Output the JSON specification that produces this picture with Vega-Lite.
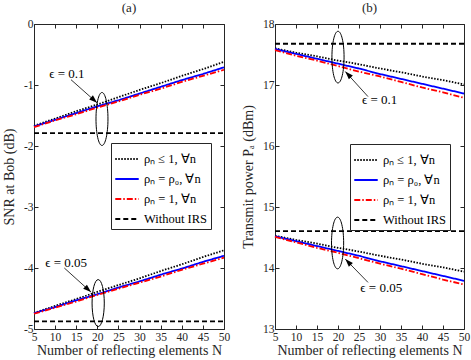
{
  "$schema": "https://vega.github.io/schema/vega-lite/v6.json",
  "padding": {"left": 2, "top": 2, "right": 10, "bottom": 3},
  "spacing": 11,
  "config": {
    "font": "Liberation Serif",
    "view": {"stroke": null},
    "axis": {"grid": false, "domainColor": "#262626", "tickColor": "#262626", "labelColor": "#262626", "titleColor": "#262626", "labelFont": "Liberation Serif", "titleFont": "Liberation Serif", "labelFontSize": 11.5, "titleFontSize": 14, "titleFontWeight": "normal", "tickSize": -4, "labelPadding": 3, "labelFlush": false, "labelOverlap": false, "domainWidth": 1, "titlePadding": 3},
    "axisX": {"labelPadding": 6, "titlePadding": 1},
    "axisY": {"labelPadding": 5, "titlePadding": 7},
    "legend": {"labelFont": "Liberation Serif", "labelFontSize": 12.5, "labelColor": "#000", "symbolType": "stroke", "symbolSize": 550, "symbolStrokeWidth": 2, "fillColor": "white", "strokeColor": "#262626", "padding": 3, "rowPadding": 0, "labelLimit": 200, "title": null},
    "title": {"font": "Liberation Serif", "fontSize": 13, "fontWeight": "normal", "color": "#262626", "offset": 3}
  },
  "datasets": {
    "a": [
      {"s":"d","e":"0.1","N":5,"v":-1.67},{"s":"d","e":"0.1","N":10,"v":-1.55},{"s":"d","e":"0.1","N":15,"v":-1.43},{"s":"d","e":"0.1","N":20,"v":-1.32},{"s":"d","e":"0.1","N":25,"v":-1.20},{"s":"d","e":"0.1","N":30,"v":-1.08},{"s":"d","e":"0.1","N":35,"v":-0.97},{"s":"d","e":"0.1","N":40,"v":-0.85},{"s":"d","e":"0.1","N":45,"v":-0.74},{"s":"d","e":"0.1","N":50,"v":-0.62},
      {"s":"b","e":"0.1","N":5,"v":-1.68},{"s":"b","e":"0.1","N":10,"v":-1.57},{"s":"b","e":"0.1","N":15,"v":-1.46},{"s":"b","e":"0.1","N":20,"v":-1.35},{"s":"b","e":"0.1","N":25,"v":-1.25},{"s":"b","e":"0.1","N":30,"v":-1.14},{"s":"b","e":"0.1","N":35,"v":-1.03},{"s":"b","e":"0.1","N":40,"v":-0.92},{"s":"b","e":"0.1","N":45,"v":-0.82},{"s":"b","e":"0.1","N":50,"v":-0.71},
      {"s":"r","e":"0.1","N":5,"v":-1.69},{"s":"r","e":"0.1","N":10,"v":-1.58},{"s":"r","e":"0.1","N":15,"v":-1.48},{"s":"r","e":"0.1","N":20,"v":-1.37},{"s":"r","e":"0.1","N":25,"v":-1.27},{"s":"r","e":"0.1","N":30,"v":-1.16},{"s":"r","e":"0.1","N":35,"v":-1.06},{"s":"r","e":"0.1","N":40,"v":-0.95},{"s":"r","e":"0.1","N":45,"v":-0.85},{"s":"r","e":"0.1","N":50,"v":-0.75},
      {"s":"w","e":"0.1","N":5,"v":-1.79},{"s":"w","e":"0.1","N":50,"v":-1.79},
      {"s":"d","e":"0.05","N":5,"v":-4.74},{"s":"d","e":"0.05","N":10,"v":-4.62},{"s":"d","e":"0.05","N":15,"v":-4.51},{"s":"d","e":"0.05","N":20,"v":-4.39},{"s":"d","e":"0.05","N":25,"v":-4.28},{"s":"d","e":"0.05","N":30,"v":-4.17},{"s":"d","e":"0.05","N":35,"v":-4.05},{"s":"d","e":"0.05","N":40,"v":-3.94},{"s":"d","e":"0.05","N":45,"v":-3.82},{"s":"d","e":"0.05","N":50,"v":-3.71},
      {"s":"b","e":"0.05","N":5,"v":-4.74},{"s":"b","e":"0.05","N":10,"v":-4.64},{"s":"b","e":"0.05","N":15,"v":-4.53},{"s":"b","e":"0.05","N":20,"v":-4.43},{"s":"b","e":"0.05","N":25,"v":-4.32},{"s":"b","e":"0.05","N":30,"v":-4.22},{"s":"b","e":"0.05","N":35,"v":-4.11},{"s":"b","e":"0.05","N":40,"v":-4.01},{"s":"b","e":"0.05","N":45,"v":-3.90},{"s":"b","e":"0.05","N":50,"v":-3.80},
      {"s":"r","e":"0.05","N":5,"v":-4.75},{"s":"r","e":"0.05","N":10,"v":-4.65},{"s":"r","e":"0.05","N":15,"v":-4.55},{"s":"r","e":"0.05","N":20,"v":-4.44},{"s":"r","e":"0.05","N":25,"v":-4.34},{"s":"r","e":"0.05","N":30,"v":-4.24},{"s":"r","e":"0.05","N":35,"v":-4.14},{"s":"r","e":"0.05","N":40,"v":-4.03},{"s":"r","e":"0.05","N":45,"v":-3.93},{"s":"r","e":"0.05","N":50,"v":-3.83},
      {"s":"w","e":"0.05","N":5,"v":-4.875},{"s":"w","e":"0.05","N":50,"v":-4.875}
    ],
    "b": [
      {"s":"d","e":"0.1","N":5,"v":17.60},{"s":"d","e":"0.1","N":10,"v":17.53},{"s":"d","e":"0.1","N":15,"v":17.47},{"s":"d","e":"0.1","N":20,"v":17.40},{"s":"d","e":"0.1","N":25,"v":17.34},{"s":"d","e":"0.1","N":30,"v":17.27},{"s":"d","e":"0.1","N":35,"v":17.21},{"s":"d","e":"0.1","N":40,"v":17.14},{"s":"d","e":"0.1","N":45,"v":17.08},{"s":"d","e":"0.1","N":50,"v":17.01},
      {"s":"b","e":"0.1","N":5,"v":17.59},{"s":"b","e":"0.1","N":10,"v":17.51},{"s":"b","e":"0.1","N":15,"v":17.43},{"s":"b","e":"0.1","N":20,"v":17.35},{"s":"b","e":"0.1","N":25,"v":17.27},{"s":"b","e":"0.1","N":30,"v":17.18},{"s":"b","e":"0.1","N":35,"v":17.10},{"s":"b","e":"0.1","N":40,"v":17.02},{"s":"b","e":"0.1","N":45,"v":16.94},{"s":"b","e":"0.1","N":50,"v":16.86},
      {"s":"r","e":"0.1","N":5,"v":17.57},{"s":"r","e":"0.1","N":10,"v":17.48},{"s":"r","e":"0.1","N":15,"v":17.40},{"s":"r","e":"0.1","N":20,"v":17.31},{"s":"r","e":"0.1","N":25,"v":17.22},{"s":"r","e":"0.1","N":30,"v":17.14},{"s":"r","e":"0.1","N":35,"v":17.05},{"s":"r","e":"0.1","N":40,"v":16.96},{"s":"r","e":"0.1","N":45,"v":16.88},{"s":"r","e":"0.1","N":50,"v":16.79},
      {"s":"w","e":"0.1","N":5,"v":17.676},{"s":"w","e":"0.1","N":50,"v":17.676},
      {"s":"d","e":"0.05","N":5,"v":14.53},{"s":"d","e":"0.05","N":10,"v":14.46},{"s":"d","e":"0.05","N":15,"v":14.40},{"s":"d","e":"0.05","N":20,"v":14.33},{"s":"d","e":"0.05","N":25,"v":14.27},{"s":"d","e":"0.05","N":30,"v":14.20},{"s":"d","e":"0.05","N":35,"v":14.14},{"s":"d","e":"0.05","N":40,"v":14.07},{"s":"d","e":"0.05","N":45,"v":14.01},{"s":"d","e":"0.05","N":50,"v":13.94},
      {"s":"b","e":"0.05","N":5,"v":14.52},{"s":"b","e":"0.05","N":10,"v":14.44},{"s":"b","e":"0.05","N":15,"v":14.36},{"s":"b","e":"0.05","N":20,"v":14.28},{"s":"b","e":"0.05","N":25,"v":14.20},{"s":"b","e":"0.05","N":30,"v":14.11},{"s":"b","e":"0.05","N":35,"v":14.03},{"s":"b","e":"0.05","N":40,"v":13.95},{"s":"b","e":"0.05","N":45,"v":13.87},{"s":"b","e":"0.05","N":50,"v":13.79},
      {"s":"r","e":"0.05","N":5,"v":14.51},{"s":"r","e":"0.05","N":10,"v":14.42},{"s":"r","e":"0.05","N":15,"v":14.33},{"s":"r","e":"0.05","N":20,"v":14.25},{"s":"r","e":"0.05","N":25,"v":14.16},{"s":"r","e":"0.05","N":30,"v":14.07},{"s":"r","e":"0.05","N":35,"v":13.99},{"s":"r","e":"0.05","N":40,"v":13.90},{"s":"r","e":"0.05","N":45,"v":13.81},{"s":"r","e":"0.05","N":50,"v":13.73},
      {"s":"w","e":"0.05","N":5,"v":14.604},{"s":"w","e":"0.05","N":50,"v":14.604}
    ],
    "aText": [{"N":12.8,"v":-0.814,"t":"ϵ = 0.1"},{"N":12.6,"v":-3.91,"t":"ϵ = 0.05"}],
    "aArrow": [{"N":13.76,"v":-0.913,"N2":19.92,"v2":-1.291},{"N":12.18,"v":-4.0,"N2":18.5,"v2":-4.395}],
    "aEll1": [{"N":21.1,"v":-1.557}],
    "aEll2": [{"N":20.2,"v":-4.575}],
    "bText": [{"N":29.9,"v":16.75,"t":"ϵ = 0.1"},{"N":30.3,"v":13.67,"t":"ϵ = 0.05"}],
    "bArrow": [{"N":27.14,"v":16.81,"N2":21.74,"v2":17.22},{"N":27.14,"v":13.764,"N2":21.74,"v2":14.146}],
    "bEll": [{"N":20.0,"v":17.457},{"N":19.9,"v":14.41}]
  },
  "resolve": {"scale": {"x": "independent", "y": "independent", "color": "independent", "strokeDash": "independent"}, "legend": {"color": "independent", "strokeDash": "independent"}},
  "hconcat": [
    {
      "width": 190, "height": 305,
      "title": {"text": "(a)"},
      "resolve": {"axis": {"x": "independent", "y": "independent"}},
      "layer": [
        {
          "layer": [
            {
              "data": {"name": "a"},
              "mark": {"type": "line", "strokeWidth": 1.8},
              "encoding": {
                "x": {"field": "N", "type": "quantitative", "scale": {"domain": [5, 50], "nice": false}, "axis": {"values": [5,10,15,20,25,30,35,40,45,50], "tickCount": 10, "labelOverlap": false, "title": "Number of reflecting elements N"}},
                "y": {"field": "v", "type": "quantitative", "scale": {"domain": [-5, 0], "nice": false}, "axis": {"values": [-5,-4,-3,-2,-1,0], "tickCount": 6, "format": "d", "labelOverlap": false, "title": "SNR at Bob (dB)", "labelExpr": "replace(datum.label, '−', '-')"}},
                "color": {"field": "s", "type": "nominal", "scale": {"domain": ["d","b","r","w"], "range": ["#000000","#0000ff","#ff0000","#000000"]}, "legend": {"orient": "none", "legendX": 77, "legendY": 119, "labelExpr": "{'d':'ρₙ ≤ 1, ∀n','b':'ρₙ = ρ₀, ∀n','r':'ρₙ = 1, ∀n','w':'Without IRS'}[datum.label]"}},
                "strokeDash": {"field": "s", "type": "nominal", "scale": {"domain": ["d","b","r","w"], "range": [[1.5,1.5],[1,0],[6,2,1.5,2],[5,3]]}, "legend": {"orient": "none", "legendX": 77, "legendY": 119, "labelExpr": "{'d':'ρₙ ≤ 1, ∀n','b':'ρₙ = ρ₀, ∀n','r':'ρₙ = 1, ∀n','w':'Without IRS'}[datum.label]"}},
                "detail": {"field": "e"}
              }
            },
            {
              "data": {"name": "aEll1"},
              "mark": {"type": "point", "shape": "M0,-1A0.226,1,0,1,1,0,1A0.226,1,0,1,1,0,-1Z", "size": 2809, "filled": false, "color": "#000", "strokeWidth": 1, "opacity": 1},
              "encoding": {"x": {"field": "N", "type": "quantitative"}, "y": {"field": "v", "type": "quantitative"}}
            },
            {
              "data": {"name": "aEll2"},
              "mark": {"type": "point", "shape": "M0,-1A0.26,1,0,1,1,0,1A0.26,1,0,1,1,0,-1Z", "size": 2209, "filled": false, "color": "#000", "strokeWidth": 1, "opacity": 1},
              "encoding": {"x": {"field": "N", "type": "quantitative"}, "y": {"field": "v", "type": "quantitative"}}
            },
            {
              "data": {"name": "aArrow"},
              "mark": {"type": "rule", "color": "#000", "strokeWidth": 0.8},
              "encoding": {"x": {"field": "N", "type": "quantitative"}, "y": {"field": "v", "type": "quantitative"}, "x2": {"field": "N2"}, "y2": {"field": "v2"}}
            },
            {
              "data": {"name": "aArrow"},
              "mark": {"type": "point", "shape": "M0,0L-0.35,1L0.35,1Z", "size": 256, "filled": true, "color": "#000", "angle": 132, "opacity": 1},
              "encoding": {"x": {"field": "N2", "type": "quantitative"}, "y": {"field": "v2", "type": "quantitative"}}
            },
            {
              "data": {"name": "aText"},
              "mark": {"type": "text", "fontSize": 13, "font": "Liberation Serif", "color": "#000"},
              "encoding": {"x": {"field": "N", "type": "quantitative"}, "y": {"field": "v", "type": "quantitative"}, "text": {"field": "t"}}
            }
          ]
        },
        {
          "data": {"name": "aText"},
          "mark": {"type": "point", "opacity": 0},
          "encoding": {
            "x": {"field": "N", "type": "quantitative", "axis": {"orient": "top", "labels": false, "title": null, "tickCount": 10, "values": [5,10,15,20,25,30,35,40,45,50]}},
            "y": {"field": "v", "type": "quantitative", "axis": {"orient": "right", "labels": false, "title": null, "tickCount": 6, "values": [-5,-4,-3,-2,-1,0]}}
          }
        }
      ]
    },
    {
      "width": 189, "height": 305,
      "title": {"text": "(b)"},
      "resolve": {"axis": {"x": "independent", "y": "independent"}},
      "layer": [
        {
          "layer": [
            {
              "data": {"name": "b"},
              "mark": {"type": "line", "strokeWidth": 1.8},
              "encoding": {
                "x": {"field": "N", "type": "quantitative", "scale": {"domain": [5, 50], "nice": false}, "axis": {"values": [5,10,15,20,25,30,35,40,45,50], "tickCount": 10, "labelOverlap": false, "title": "Number of reflecting elements N"}},
                "y": {"field": "v", "type": "quantitative", "scale": {"domain": [13, 18], "nice": false}, "axis": {"values": [13,14,15,16,17,18], "tickCount": 6, "format": "d", "labelOverlap": false, "title": "Transmit power Pₐ (dBm)"}},
                "color": {"field": "s", "type": "nominal", "scale": {"domain": ["d","b","r","w"], "range": ["#000000","#0000ff","#ff0000","#000000"]}, "legend": {"orient": "none", "legendX": 75, "legendY": 120, "labelExpr": "{'d':'ρₙ ≤ 1, ∀n','b':'ρₙ = ρ₀, ∀n','r':'ρₙ = 1, ∀n','w':'Without IRS'}[datum.label]"}},
                "strokeDash": {"field": "s", "type": "nominal", "scale": {"domain": ["d","b","r","w"], "range": [[1.5,1.5],[1,0],[6,2,1.5,2],[5,3]]}, "legend": {"orient": "none", "legendX": 75, "legendY": 120, "labelExpr": "{'d':'ρₙ ≤ 1, ∀n','b':'ρₙ = ρ₀, ∀n','r':'ρₙ = 1, ∀n','w':'Without IRS'}[datum.label]"}},
                "detail": {"field": "e"}
              }
            },
            {
              "data": {"name": "bEll"},
              "mark": {"type": "point", "shape": "M0,-1A0.235,1,0,1,1,0,1A0.235,1,0,1,1,0,-1Z", "size": 2670, "filled": false, "color": "#000", "strokeWidth": 1, "opacity": 1},
              "encoding": {"x": {"field": "N", "type": "quantitative"}, "y": {"field": "v", "type": "quantitative"}}
            },
            {
              "data": {"name": "bArrow"},
              "mark": {"type": "rule", "color": "#000", "strokeWidth": 0.8},
              "encoding": {"x": {"field": "N", "type": "quantitative"}, "y": {"field": "v", "type": "quantitative"}, "x2": {"field": "N2"}, "y2": {"field": "v2"}}
            },
            {
              "data": {"name": "bArrow"},
              "mark": {"type": "point", "shape": "M0,0L-0.35,1L0.35,1Z", "size": 256, "filled": true, "color": "#000", "angle": 316, "opacity": 1},
              "encoding": {"x": {"field": "N2", "type": "quantitative"}, "y": {"field": "v2", "type": "quantitative"}}
            },
            {
              "data": {"name": "bText"},
              "mark": {"type": "text", "fontSize": 13, "font": "Liberation Serif", "color": "#000"},
              "encoding": {"x": {"field": "N", "type": "quantitative"}, "y": {"field": "v", "type": "quantitative"}, "text": {"field": "t"}}
            }
          ]
        },
        {
          "data": {"name": "bText"},
          "mark": {"type": "point", "opacity": 0},
          "encoding": {
            "x": {"field": "N", "type": "quantitative", "axis": {"orient": "top", "labels": false, "title": null, "tickCount": 10, "values": [5,10,15,20,25,30,35,40,45,50]}},
            "y": {"field": "v", "type": "quantitative", "axis": {"orient": "right", "labels": false, "title": null, "tickCount": 6, "values": [13,14,15,16,17,18]}}
          }
        }
      ]
    }
  ]
}
